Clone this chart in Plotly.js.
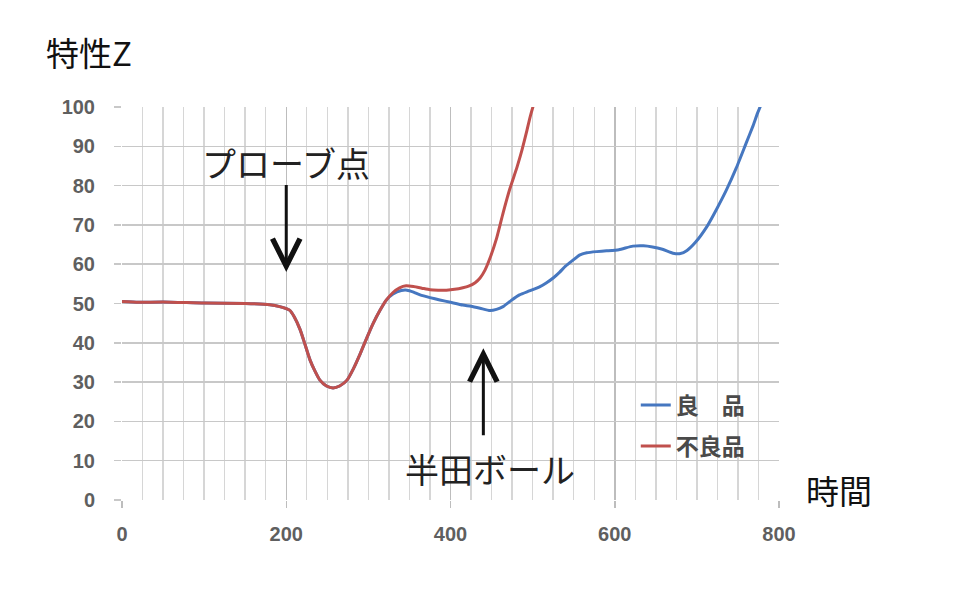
<!DOCTYPE html>
<html>
<head>
<meta charset="utf-8">
<script src="https://cdn.plot.ly/plotly-3.0.1.min.js"></script>
<style>html,body{margin:0;padding:0;background:#fff;}#chart{width:958px;height:614px;}</style>
</head>
<body>
<div id="chart"></div>
<script>
// ---- data ----
const goodName = "良\u3000品";
const badName = "不良品";
const goodX = [0, 20, 50, 100, 150, 180, 192, 204, 210, 217, 223, 229, 235, 241, 249, 257, 265, 274, 282, 290, 298, 306, 314, 322, 330, 340, 347, 355, 363, 375, 387, 400, 415, 425, 436, 448, 456, 464, 474, 484, 496, 509, 517, 525, 533, 540, 549, 557, 566, 578, 590, 605, 622, 635, 646, 658, 671, 680, 688, 698, 712, 724, 736, 748, 760, 768, 774, 778];
const goodY = [50.5, 50.3, 50.4, 50.1, 50.0, 49.7, 49.2, 48.3, 46.5, 43.3, 39.5, 35.6, 32.8, 30.5, 29.0, 28.5, 29.0, 30.5, 33.5, 37.2, 41.2, 45.0, 48.2, 50.9, 52.4, 53.3, 53.4, 52.9, 52.2, 51.5, 50.9, 50.3, 49.6, 49.3, 48.8, 48.2, 48.5, 49.2, 50.8, 52.2, 53.2, 54.3, 55.3, 56.5, 58.0, 59.5, 61.0, 62.3, 62.9, 63.2, 63.4, 63.7, 64.6, 64.7, 64.4, 63.8, 62.8, 62.7, 63.5, 65.5, 69.5, 74.0, 78.9, 84.5, 90.8, 95.0, 98.5, 100.5];
const badX = [0, 20, 50, 100, 150, 180, 192, 204, 210, 217, 223, 229, 235, 241, 249, 257, 265, 274, 282, 290, 298, 306, 314, 322, 330, 338, 346, 355, 365, 375, 385, 395, 405, 415, 422, 430, 436, 442, 448, 456, 464, 472, 481, 487, 493, 497, 501];
const badY = [50.5, 50.3, 50.4, 50.1, 50.0, 49.7, 49.2, 48.3, 46.5, 43.3, 39.5, 35.6, 32.8, 30.5, 29.0, 28.5, 29.0, 30.5, 33.5, 37.2, 41.2, 45.0, 48.2, 50.9, 52.8, 54.0, 54.5, 54.3, 53.9, 53.5, 53.4, 53.4, 53.6, 54.0, 54.4, 55.3, 56.5, 58.5, 61.5, 66.5, 73.0, 79.0, 84.7, 89.0, 94.0, 97.5, 100.5];
const yTicks = [0, 10, 20, 30, 40, 50, 60, 70, 80, 90, 100];
const xTicks = [0, 200, 400, 600, 800];
const xMinorStep = 25;
const yTitle = "特性Z";
const xTitle = "時間";
const probeLabel = "プローブ点";
const ballLabel = "半田ボール";
const probeAt = [200, 58];
const ballAt = [440, 38.6];

const cjk = '"Noto Sans CJK JP", "Noto Sans", sans-serif';
const numFont = 'Liberation Sans, Arial, sans-serif';
const xMinor = [];
for (let v = 0; v <= 800; v += xMinorStep) if (v % 200 !== 0) xMinor.push(v);

const traces = [
  {x: goodX, y: goodY, name: goodName, mode: 'lines', type: 'scatter', legend: 'legend',
   line: {color: '#4677c0', width: 3, shape: 'spline', smoothing: 0.5}},
  {x: badX, y: badY, name: badName, mode: 'lines', type: 'scatter', legend: 'legend2',
   line: {color: '#c0504d', width: 3, shape: 'spline', smoothing: 0.5}}
];

const legendFont = {family: cjk, size: 23, color: '#4a4a4a', weight: 'bold'};
const tickFont = {family: numFont, size: 20, color: '#5f5f5f', weight: 'bold'};
const layout = {
  width: 958, height: 614,
  margin: {l: 122, r: 179, t: 107, b: 114},
  paper_bgcolor: '#ffffff', plot_bgcolor: '#ffffff',
  showlegend: true,
  legend: {x: 0.782, y: 0.2417, xanchor: 'left', yanchor: 'middle',
           bgcolor: 'rgba(255,255,255,0)', font: legendFont},
  legend2: {x: 0.782, y: 0.137, xanchor: 'left', yanchor: 'middle',
           bgcolor: 'rgba(255,255,255,0)', font: legendFont},
  xaxis: {range: [0, 800], tickmode: 'array', tickvals: xTicks, ticktext: xTicks.map(String),
          showgrid: true, gridcolor: '#bdbdbd', gridwidth: 1.5,
          minor: {tickmode: 'array', tickvals: xMinor, showgrid: true, gridcolor: '#d6d6d6', gridwidth: 1.4, ticks: ''},
          ticks: 'outside', ticklen: 7, tickcolor: '#bdbdbd', tickwidth: 1.5,
          zeroline: false, showline: false,
          tickfont: tickFont,
          ticklabelstandoff: 9},
  yaxis: {range: [0, 100], tickmode: 'array', tickvals: yTicks, ticktext: yTicks.map(String),
          showgrid: true, gridcolor: '#c8c8c8', gridwidth: 1.5,
          ticks: 'outside', ticklen: 7, tickcolor: '#c8c8c8', tickwidth: 1.5,
          zeroline: false, showline: false,
          tickfont: tickFont,
          ticklabelstandoff: 15},
  annotations: [
    {xref: 'paper', yref: 'paper', x: -0.119, y: 1.14, xanchor: 'left', yanchor: 'middle',
     text: yTitle, showarrow: false, font: {family: cjk, size: 33, color: '#111'}},
    {xref: 'paper', yref: 'paper', x: 1.038, y: 0.025, xanchor: 'left', yanchor: 'middle',
     text: xTitle, showarrow: false, font: {family: cjk, size: 33, color: '#111'}},
    {x: probeAt[0], y: 85.8, text: probeLabel, showarrow: false,
     xanchor: 'center', yanchor: 'middle', font: {family: cjk, size: 34, color: '#222'}},
    {x: probeAt[0], y: probeAt[1], ax: 0, ay: -97, text: ' ', showarrow: true,
     arrowhead: 5, arrowsize: 1.8, arrowwidth: 3, arrowcolor: '#111'},
    {x: 448, y: 8.0, text: ballLabel, showarrow: false,
     xanchor: 'center', yanchor: 'middle', font: {family: cjk, size: 34, color: '#222'}},
    {x: ballAt[0], y: ballAt[1], ax: 0, ay: 97, text: ' ', showarrow: true,
     arrowhead: 5, arrowsize: 1.8, arrowwidth: 3, arrowcolor: '#111'}
  ]
};

Plotly.newPlot('chart', traces, layout, {staticPlot: true, displayModeBar: false});
</script>
</body>
</html>
